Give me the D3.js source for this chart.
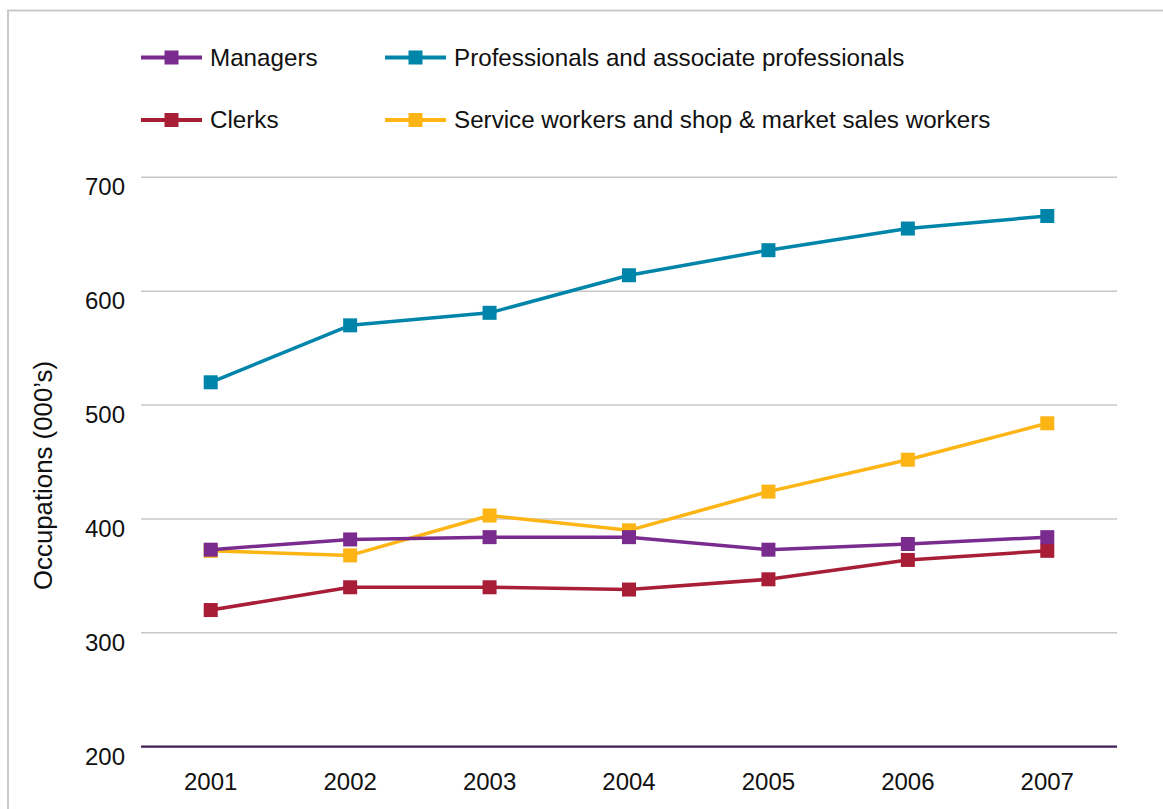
<!DOCTYPE html>
<html>
<head>
<meta charset="utf-8">
<script src="https://cdn.jsdelivr.net/npm/d3@7"></script>
<style>
  html, body { margin: 0; padding: 0; background: #fff; }
  svg { display: block; font-family: "Liberation Sans", Arial, Helvetica, sans-serif; }
</style>
</head>
<body>
<svg id="chart" width="1163" height="809"></svg>
<script>
// Employment by occupation group, thousands
const years = ["2001", "2002", "2003", "2004", "2005", "2006", "2007"];
const managers = [373, 382, 384, 384, 373, 378, 384];
const professionals = [520, 570, 581, 614, 636, 655, 666];
const clerks = [320, 340, 340, 338, 347, 364, 372];
const serviceWorkers = [372, 368, 403, 390, 424, 452, 484];
const yTicks = [200, 300, 400, 500, 600, 700];
const seriesNames = [
  "Managers",
  "Professionals and associate professionals",
  "Clerks",
  "Service workers and shop & market sales workers"
];

const series = [
  { name: seriesNames[0], values: managers, color: "#7a2c8e" },
  { name: seriesNames[1], values: professionals, color: "#0085aa" },
  { name: seriesNames[2], values: clerks, color: "#a81e37" },
  { name: seriesNames[3], values: serviceWorkers, color: "#fdb515" }
];

const svg = d3.select("#chart");

// outer frame
svg.append("path")
  .attr("d", "M8,809 L8,10.5 L1163,10.5")
  .attr("fill", "none")
  .attr("stroke", "#c9c9c9")
  .attr("stroke-width", 2);

const x = d3.scalePoint().domain(years).range([141, 1117]).padding(0.5);
const y = d3.scaleLinear().domain([200, 700]).range([746.7, 177.3]);

// horizontal gridlines
svg.append("g")
  .selectAll("line")
  .data(yTicks.filter(t => t > 200))
  .join("line")
  .attr("x1", 141).attr("x2", 1117)
  .attr("y1", d => y(d)).attr("y2", d => y(d))
  .attr("stroke", "#c8c8c8")
  .attr("stroke-width", 1.5);

// y tick labels (hanging just below their gridline)
svg.append("g")
  .selectAll("text")
  .data(yTicks)
  .join("text")
  .attr("x", 125)
  .attr("y", d => y(d) + 18)
  .attr("text-anchor", "end")
  .attr("font-size", 24)
  .attr("fill", "#111")
  .text(d => d);

// baseline
svg.append("line")
  .attr("x1", 141).attr("x2", 1117)
  .attr("y1", y(200)).attr("y2", y(200))
  .attr("stroke", "#3f1d55")
  .attr("stroke-width", 2.2);

// x labels
svg.append("g")
  .selectAll("text")
  .data(years)
  .join("text")
  .attr("x", d => x(d))
  .attr("y", 789.5)
  .attr("text-anchor", "middle")
  .attr("font-size", 24)
  .attr("fill", "#111")
  .text(d => d);

// y axis title
svg.append("text")
  .attr("transform", "translate(52,475.5) rotate(-90)")
  .attr("text-anchor", "middle")
  .attr("font-size", 25.8)
  .attr("fill", "#111")
  .text("Occupations (000\u2019s)");

// lines and markers; managers drawn last so it sits on top
const drawOrder = [series[3], series[2], series[1], series[0]];
const lineGen = d3.line()
  .x((d, i) => x(years[i]))
  .y(d => y(d));

const plot = svg.append("g");
drawOrder.forEach(s => {
  const g = plot.append("g");
  g.append("path")
    .attr("d", lineGen(s.values))
    .attr("fill", "none")
    .attr("stroke", s.color)
    .attr("stroke-width", 3.5)
    .attr("stroke-linejoin", "round");
  g.selectAll("rect")
    .data(s.values)
    .join("rect")
    .attr("x", (d, i) => x(years[i]) - 7)
    .attr("y", d => y(d) - 7)
    .attr("width", 14)
    .attr("height", 14)
    .attr("fill", s.color);
});

// legend
const legendPos = [
  { lx: 141, ty: 57.5 },
  { lx: 385, ty: 57.5 },
  { lx: 141, ty: 120 },
  { lx: 385, ty: 120 }
];
const legend = svg.append("g");
series.forEach((s, i) => {
  const p = legendPos[i];
  const g = legend.append("g");
  g.append("line")
    .attr("x1", p.lx).attr("x2", p.lx + 61)
    .attr("y1", p.ty).attr("y2", p.ty)
    .attr("stroke", s.color)
    .attr("stroke-width", 4);
  g.append("rect")
    .attr("x", p.lx + 30.5 - 7)
    .attr("y", p.ty - 7)
    .attr("width", 14).attr("height", 14)
    .attr("fill", s.color);
  g.append("text")
    .attr("x", p.lx + 69)
    .attr("y", p.ty + 8)
    .attr("font-size", 24.2)
    .attr("fill", "#111")
    .text(s.name);
});
</script>
</body>
</html>
